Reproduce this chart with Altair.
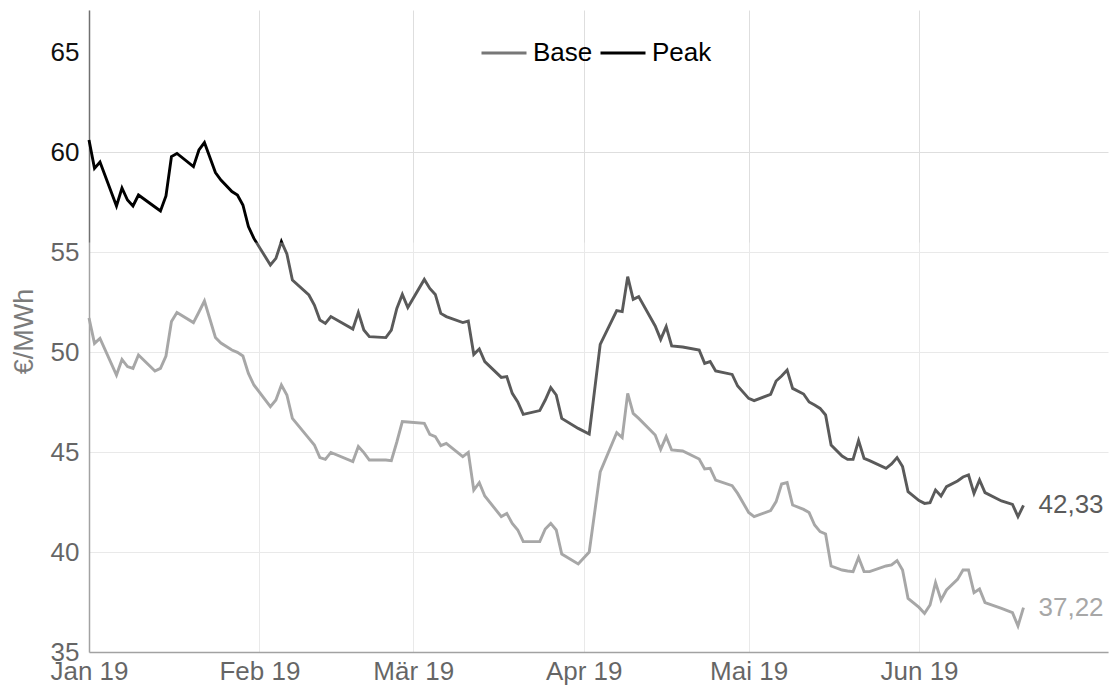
import altair as alt
import pandas as pd

# ---------------- data ----------------
dates = [
    "2019-01-01", "2019-01-02", "2019-01-03", "2019-01-06", "2019-01-07", "2019-01-08", "2019-01-09", "2019-01-10", "2019-01-13", "2019-01-14",
    "2019-01-15", "2019-01-16", "2019-01-17", "2019-01-20", "2019-01-21", "2019-01-22", "2019-01-24", "2019-01-25", "2019-01-27", "2019-01-28",
    "2019-01-29", "2019-01-30", "2019-01-31", "2019-02-03", "2019-02-04", "2019-02-05", "2019-02-06", "2019-02-07", "2019-02-10", "2019-02-11",
    "2019-02-12", "2019-02-13", "2019-02-14", "2019-02-18", "2019-02-19", "2019-02-20", "2019-02-21", "2019-02-24", "2019-02-25", "2019-02-26",
    "2019-02-27", "2019-02-28", "2019-03-03", "2019-03-04", "2019-03-05", "2019-03-06", "2019-03-07", "2019-03-10", "2019-03-11", "2019-03-12",
    "2019-03-13", "2019-03-14", "2019-03-17", "2019-03-18", "2019-03-19", "2019-03-20", "2019-03-21", "2019-03-24", "2019-03-25", "2019-03-26",
    "2019-03-27", "2019-03-28", "2019-03-31", "2019-04-02", "2019-04-04", "2019-04-07", "2019-04-08", "2019-04-09", "2019-04-10", "2019-04-11",
    "2019-04-14", "2019-04-15", "2019-04-16", "2019-04-17", "2019-04-19", "2019-04-22", "2019-04-23", "2019-04-24", "2019-04-25", "2019-04-28",
    "2019-04-29", "2019-05-01", "2019-05-02", "2019-05-05", "2019-05-06", "2019-05-07", "2019-05-08", "2019-05-09", "2019-05-11", "2019-05-12",
    "2019-05-13", "2019-05-14", "2019-05-15", "2019-05-16", "2019-05-18", "2019-05-19", "2019-05-20", "2019-05-21", "2019-05-22", "2019-05-23",
    "2019-05-26", "2019-05-27", "2019-05-28", "2019-05-29", "2019-05-30", "2019-06-01", "2019-06-02", "2019-06-03", "2019-06-04", "2019-06-05",
    "2019-06-06", "2019-06-08", "2019-06-09", "2019-06-10", "2019-06-11", "2019-06-12", "2019-06-13", "2019-06-16", "2019-06-18", "2019-06-19",
    "2019-06-20",
]

peak = [
    60.6, 59.18, 59.5, 57.3, 58.2, 57.6, 57.3, 57.85, 57.25, 57.05,
    57.8, 59.77, 59.93, 59.27, 60.1, 60.47, 58.97, 58.6, 58.02, 57.85,
    57.35, 56.27, 55.68, 54.35, 54.68, 55.52, 54.9, 53.6, 52.85, 52.35,
    51.6, 51.43, 51.77, 51.15, 51.98, 51.1, 50.77, 50.72, 51.1, 52.18,
    52.88, 52.22, 53.63, 53.18, 52.88, 51.93, 51.77, 51.47, 51.55, 49.88,
    50.15, 49.52, 48.73, 48.77, 47.93, 47.5, 46.88, 47.07, 47.6, 48.22,
    47.85, 46.68, 46.18, 45.9, 50.38, 52.07, 52.02, 53.77, 52.63, 52.77,
    51.3, 50.63, 51.27, 50.3, 50.25, 50.1, 49.43, 49.52, 49.05, 48.88,
    48.3, 47.68, 47.57, 47.88, 48.55, 48.8, 49.1, 48.18, 47.9, 47.5,
    47.35, 47.18, 46.85, 45.35, 44.8, 44.63, 44.63, 45.57, 44.68, 44.57,
    44.18, 44.4, 44.72, 44.27, 43.02, 42.57, 42.43, 42.47, 43.1, 42.8,
    43.27, 43.55, 43.75, 43.85, 42.93, 43.6, 42.97, 42.55, 42.38, 41.77,
    42.33,
]

base = [
    51.7, 50.43, 50.68, 48.85, 49.63, 49.27, 49.18, 49.85, 49.05, 49.18,
    49.8, 51.52, 51.97, 51.47, 52.0, 52.55, 50.73, 50.45, 50.1, 49.98,
    49.8, 48.93, 48.35, 47.27, 47.6, 48.35, 47.85, 46.68, 45.68, 45.35,
    44.72, 44.63, 44.98, 44.52, 45.27, 44.97, 44.6, 44.6, 44.57, 45.5,
    46.52, 46.5, 46.43, 45.88, 45.77, 45.32, 45.43, 44.77, 44.98, 43.1,
    43.47, 42.8, 41.77, 41.93, 41.43, 41.1, 40.52, 40.52, 41.15, 41.43,
    41.1, 39.9, 39.4, 40.0, 44.0, 45.97, 45.72, 47.93, 46.93, 46.68,
    45.85, 45.13, 45.77, 45.1, 45.05, 44.65, 44.15, 44.18, 43.6, 43.32,
    42.93, 41.98, 41.77, 42.07, 42.52, 43.4, 43.47, 42.35, 42.13, 41.97,
    41.35, 41.02, 40.9, 39.3, 39.1, 39.05, 39.02, 39.73, 39.02, 39.02,
    39.3, 39.35, 39.57, 39.1, 37.68, 37.23, 36.93, 37.35, 38.47, 37.6,
    38.1, 38.63, 39.1, 39.1, 37.97, 38.15, 37.47, 37.18, 36.97, 36.3,
    37.22,
]

series_names = ["Base", "Peak"]
series_colors = ["#777777", "#000000"]
month_names = ["Jan", "Feb", "Mär", "Apr", "Mai", "Jun", "Jul", "Aug", "Sep", "Okt", "Nov", "Dez"]
x_tick_months = [1, 2, 3, 4, 5, 6]
y_ticks = [35, 40, 45, 50, 55, 60, 65]
y_title = "€/MWh"

# ---------------- tables ----------------
df = pd.concat([
    pd.DataFrame({"date": dates, "value": base, "series": "Base"}),
    pd.DataFrame({"date": dates, "value": peak, "series": "Peak"}),
], ignore_index=True)

last = pd.DataFrame({
    "date": [dates[-1], dates[-1]],
    "value": [base[-1], peak[-1]],
    "series": ["Base", "Peak"],
})
last["label"] = last["value"].map(lambda v: f"{v:.2f}".replace(".", ","))

FONT = "Liberation Sans"
W, H = 1019, 642

month_js = "[" + ",".join(f"'{m}'" for m in month_names) + "]"
label_expr = month_js + "[utcmonth(datum.value)] + ' ' + utcFormat(datum.value, '%y')"

x_scale = alt.Scale(
    type="utc",
    domain=[alt.DateTime(year=2019, month=1, date=1, utc=True),
            alt.DateTime(year=2019, month=7, date=5, hours=9, utc=True)],
)
y_scale = alt.Scale(domain=[35, 67.1], nice=False, zero=False)
color_scale = alt.Scale(domain=series_names, range=series_colors)

x_axis = alt.Axis(
    title=None, values=[alt.DateTime(year=2019, month=m, date=1, utc=True) for m in x_tick_months],
    labelExpr=label_expr, labelFontSize=26, labelColor="#111111", labelFont=FONT,
    labelPadding=6, ticks=False, domainColor="#707070", domainWidth=1.5,
    gridColor="#dedede", gridWidth=1, labelFlush=False, labelOverlap=False, zindex=0,
)
y_axis = alt.Axis(
    title=y_title, values=y_ticks, labelFontSize=26, labelColor="#111111", labelFont=FONT,
    labelPadding=10, ticks=False, domainColor="#707070", domainWidth=1.5,
    gridColor="#dedede", gridWidth=1, gridOpacity={"expr": "datum.value == 65 ? 0 : 1"},
    titleFontSize=27, titleFont=FONT, titleFontWeight="normal", titleColor="#333333",
    titleX=-57, titleY=H / 2, titleAngle=270, titleAlign="center", titleBaseline="alphabetic",
    labelOverlap=False, zindex=0,
)

lines = alt.Chart(df).mark_line(strokeWidth=2.9).encode(
    x=alt.X("date:T", scale=x_scale, axis=x_axis),
    y=alt.Y("value:Q", scale=y_scale, axis=y_axis),
    color=alt.Color(
        "series:N", scale=color_scale,
        legend=alt.Legend(
            title=None, orient="none", legendX=391, legendY=19, direction="horizontal",
            symbolType="stroke", symbolSize=2025, symbolStrokeWidth=3,
            labelFontSize=26, labelColor="#000000", labelFont=FONT,
            labelOffset=5, columnPadding=1, padding=0,
        ),
    ),
    detail="series:N",
)

end_labels = alt.Chart(last).mark_text(
    align="left", baseline="middle", dx=15, fontSize=26, font=FONT
).encode(
    x=alt.X("date:T", scale=x_scale),
    y=alt.Y("value:Q", scale=y_scale),
    text="label:N",
    color=alt.Color("series:N", scale=color_scale, legend=None),
)

# faded lower band of the picture (white veil over everything below it)
veil = alt.Chart(pd.DataFrame({"k": [0]})).mark_rect(fill="white", opacity=0.353).encode(
    x=alt.value(-95), x2=alt.value(W + 10), y=alt.value(232.5), y2=alt.value(H + 40)
)

chart = alt.layer(lines, end_labels, veil).properties(
    width=W, height=H,
    autosize=alt.AutoSizeParams(type="none"),
    padding={"left": 89, "top": 10, "right": 6, "bottom": 34},
).configure(font=FONT).configure_view(stroke=None)

chart.save("out.html", embed_options={"renderer": "svg", "actions": False})
